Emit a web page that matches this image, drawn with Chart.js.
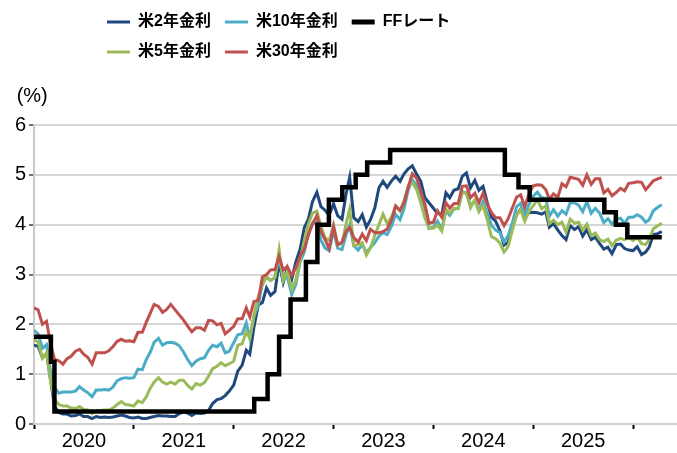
<!DOCTYPE html>
<html>
<head>
<meta charset="utf-8">
<script src="https://cdn.jsdelivr.net/npm/chart.js@4.4.1/dist/chart.umd.min.js"></script>
<style>
    html, body { margin: 0; padding: 0; background: #fff; }
    canvas { display: block; }
</style>
</head>
<body>
<canvas id="yieldChart" width="677" height="453"></canvas>
<script>
const us2y = [
    1.58,1.56, 1.33,1.42, 0.91,0.36, 0.23,0.20, 0.20,0.16, 0.17,0.20, 0.15,0.15, 0.11,0.15, 0.13,0.14, 0.13,0.14, 0.16,0.18, 0.16,0.13,
    0.12,0.14, 0.11,0.11, 0.13,0.15, 0.17,0.16, 0.16,0.15, 0.15,0.21, 0.24,0.22, 0.17,0.22, 0.21,0.22, 0.27,0.41, 0.49,0.51, 0.57,0.66,
    0.78,1.06, 1.18,1.48, 1.40,1.94, 2.39,2.44, 2.73,2.58, 2.66,3.25, 2.84,3.13, 2.90,3.25, 3.51,3.94, 4.11,4.46, 4.65,4.36, 4.29,4.19,
    4.42,4.18, 4.11,4.62, 4.95,4.14, 4.06,4.20, 3.95,4.10, 4.34,4.74, 4.87,4.75, 4.88,4.97, 4.87,5.02, 5.12,5.18, 5.01,4.87, 4.54,4.44,
    4.33,4.22, 4.21,4.64, 4.54,4.69, 4.72,4.97, 5.04,4.74, 4.89,4.69, 4.77,4.45, 4.15,4.07, 3.88,3.59, 3.64,3.95, 4.20,4.31, 4.15,4.24,
    4.25,4.24, 4.21,4.26, 3.95,4.02, 3.89,3.78, 3.70,3.98, 3.90,3.96, 3.77,3.90, 3.70,3.75, 3.62,3.51, 3.55,3.42, 3.60,3.61, 3.52,3.49,
    3.48,3.56, 3.40,3.45, 3.55,3.80, 3.82,3.86
];
const us5y = [
    1.69,1.65, 1.32,1.43, 0.89,0.49, 0.39,0.36, 0.36,0.32, 0.31,0.35, 0.29,0.28, 0.21,0.27, 0.27,0.28, 0.28,0.32, 0.39,0.45, 0.39,0.38,
    0.36,0.46, 0.43,0.55, 0.71,0.84, 0.93,0.84, 0.80,0.84, 0.80,0.88, 0.88,0.78, 0.70,0.81, 0.78,0.83, 0.96,1.11, 1.16,1.23, 1.17,1.21,
    1.26,1.58, 1.61,1.85, 1.72,2.18, 2.56,2.79, 2.96,2.88, 2.94,3.50, 2.88,3.07, 2.70,2.89, 3.30,3.68, 4.01,4.23, 4.27,3.97, 3.74,3.68,
    3.99,3.59, 3.63,4.02, 4.31,3.58, 3.60,3.64, 3.39,3.53, 3.79,4.00, 4.21,4.02, 4.15,4.38, 4.27,4.49, 4.77,4.85, 4.70,4.44, 4.14,3.93,
    3.93,3.99, 3.87,4.31, 4.23,4.33, 4.32,4.64, 4.64,4.34, 4.50,4.26, 4.38,4.11, 3.76,3.72, 3.63,3.45, 3.56,3.88, 4.20,4.30, 4.07,4.26,
    4.38,4.50, 4.32,4.38, 4.02,4.09, 4.00,4.05, 3.85,4.11, 4.03,4.05, 3.89,4.01, 3.78,3.83, 3.70,3.66, 3.71,3.58, 3.69,3.72, 3.70,3.75,
    3.68,3.75, 3.62,3.60, 3.70,3.92, 3.98,4.03
];
const us10y = [
    1.88,1.81, 1.52,1.59, 1.08,0.73, 0.62,0.64, 0.64,0.64, 0.66,0.75, 0.68,0.63, 0.55,0.68, 0.68,0.69, 0.68,0.74, 0.87,0.91, 0.93,0.92,
    0.93,1.10, 1.09,1.30, 1.43,1.64, 1.72,1.58, 1.63,1.64, 1.62,1.57, 1.45,1.30, 1.17,1.26, 1.31,1.33, 1.48,1.58, 1.55,1.62, 1.43,1.46,
    1.63,1.79, 1.81,2.03, 1.72,2.15, 2.39,2.83, 2.94,2.88, 2.94,3.35, 2.88,2.96, 2.60,2.80, 3.26,3.45, 3.83,4.02, 4.05,3.69, 3.53,3.48,
    3.88,3.53, 3.50,3.80, 4.00,3.58, 3.49,3.60, 3.44,3.54, 3.64,3.77, 3.84,3.80, 3.97,4.21, 4.10,4.33, 4.69,4.90, 4.79,4.54, 4.29,3.92,
    3.95,4.07, 3.91,4.28, 4.19,4.31, 4.33,4.66, 4.63,4.38, 4.48,4.28, 4.46,4.22, 3.99,3.89, 3.84,3.65, 3.78,4.03, 4.36,4.43, 4.19,4.40,
    4.57,4.65, 4.54,4.53, 4.17,4.30, 4.17,4.28, 4.21,4.44, 4.44,4.39, 4.26,4.46, 4.23,4.33, 4.23,4.04, 4.12,4.01, 4.11,4.13, 4.02,4.15,
    4.15,4.20, 4.15,4.05, 4.10,4.28, 4.35,4.40
];
const us30y = [
    2.33,2.29, 2.00,2.06, 1.63,1.30, 1.27,1.20, 1.31,1.36, 1.46,1.50, 1.40,1.34, 1.20,1.43, 1.43,1.43, 1.47,1.55, 1.66,1.70, 1.66,1.67,
    1.65,1.84, 1.84,2.05, 2.21,2.40, 2.36,2.24, 2.30,2.40, 2.29,2.19, 2.09,1.97, 1.85,1.93, 1.93,1.88, 2.08,2.07, 1.99,2.02, 1.81,1.88,
    1.96,2.11, 2.11,2.33, 2.15,2.46, 2.48,2.95, 3.00,3.09, 3.10,3.36, 3.09,3.16, 2.98,3.13, 3.37,3.51, 3.79,4.02, 4.18,3.87, 3.70,3.52,
    3.96,3.60, 3.65,3.87, 3.94,3.74, 3.65,3.81, 3.68,3.91, 3.84,3.84, 3.86,3.91, 4.09,4.37, 4.29,4.44, 4.76,5.02, 4.93,4.68, 4.41,4.03,
    4.05,4.28, 4.15,4.44, 4.33,4.42, 4.43,4.77, 4.78,4.54, 4.63,4.44, 4.63,4.41, 4.24,4.14, 4.14,3.98, 4.12,4.33, 4.55,4.60, 4.36,4.61,
    4.78,4.80, 4.79,4.70, 4.51,4.62, 4.55,4.82, 4.76,4.95, 4.93,4.91, 4.79,5.00, 4.81,4.92, 4.92,4.64, 4.71,4.58, 4.65,4.73, 4.68,4.83,
    4.84,4.86, 4.85,4.70, 4.78,4.88, 4.92,4.95
];

// FF rate (upper bound), value from each change date on
const ffDates = ['2020-01-01','2020-03-03','2020-03-16','2022-03-17','2022-05-05','2022-06-16','2022-07-28',
    '2022-09-22','2022-11-03','2022-12-15','2023-02-02','2023-03-23','2023-05-04','2023-07-27',
    '2024-09-19','2024-11-08','2024-12-19','2025-09-18','2025-10-30','2025-12-11','2026-04-16'];
const ffRate = [1.75,1.25,0.25,0.50,1.00,1.75,2.50,3.25,4.00,4.50,4.75,5.00,5.25,5.50,5.00,4.75,4.50,4.25,4.00,3.75,3.75];

const yearLabels = ['2020','2021','2022','2023','2024','2025'];
const yLabels = ['0','1','2','3','4','5','6'];

const c2 = '#1F497D';
const c5 = '#9BBB59';
const c10 = '#4BACC6';
const c30 = '#C0504D';

const axisFont = "'Liberation Sans', Arial, sans-serif";
const legendFont = "'Liberation Sans', 'Noto Sans CJK JP', sans-serif";

// sample dates: 1st and 16th of every month
let sampleDates = [];
for (let y = 2020; y <= 2026; y++) {
    for (let m = 1; m <= 12; m++) {
        if (y == 2026 && m > 4) break;
        let mm = String(m).padStart(2, '0');
        sampleDates.push(y + '-' + mm + '-01', y + '-' + mm + '-16');
    }
}

function toYear(s) {
    let d = Date.parse(s + 'T00:00:00Z');
    let y = Number(s.slice(0, 4));
    let start = Date.UTC(y, 0, 1);
    let end = Date.UTC(y + 1, 0, 1);
    return y + (d - start) / (end - start);
}

function series(values) {
    return sampleDates.map((d, i) => ({x: toYear(d), y: values[i]}));
}

function legendItem(text, color, width) {
    return {text: text, fillStyle: color, strokeStyle: color, lineWidth: width,
        pointStyle: 'line', fontColor: '#000', hidden: false};
}

// blank entries keep the two legend rows lined up in columns
function spacer(n) {
    return {text: '\u3000'.repeat(n), fillStyle: 'rgba(0,0,0,0)', strokeStyle: 'rgba(0,0,0,0)',
        lineWidth: 0, pointStyle: 'line', fontColor: 'rgba(0,0,0,0)', hidden: false};
}

const legendEntries = [
    spacer(3),
    legendItem('米2年金利', c2, 3),
    legendItem('米10年金利', c10, 3),
    legendItem('FFレート', '#000', 5),
    spacer(9),
    spacer(3),
    legendItem('米5年金利', c5, 3),
    legendItem('米30年金利', c30, 3)
];

let ctx = document.getElementById('yieldChart').getContext('2d');

let chart = new Chart(ctx, {
    type: 'line',
    data: {
        datasets: [
            {
                label: 'FFレート',
                data: ffDates.map((d, i) => ({x: toYear(d), y: ffRate[i]})),
                borderColor: '#000',
                borderWidth: 4.5,
                stepped: true,
                pointRadius: 0,
                fill: false
            },
            {label: '米30年金利', data: series(us30y), borderColor: c30, borderWidth: 3, pointRadius: 0, fill: false},
            {label: '米5年金利', data: series(us5y), borderColor: c5, borderWidth: 3, pointRadius: 0, fill: false},
            {label: '米10年金利', data: series(us10y), borderColor: c10, borderWidth: 3, pointRadius: 0, fill: false},
            {label: '米2年金利', data: series(us2y), borderColor: c2, borderWidth: 3, pointRadius: 0, fill: false}
        ]
    },
    options: {
        responsive: false,
        animation: false,
        devicePixelRatio: 1,
        events: [],
        layout: {padding: 0},
        plugins: {
            legend: {
                position: 'top',
                align: 'start',
                labels: {
                    usePointStyle: true,
                    pointStyleWidth: 23,
                    padding: 14,
                    color: '#000',
                    font: {family: legendFont, size: 16, weight: 'bold'},
                    generateLabels: () => legendEntries
                }
            },
            title: {
                display: true,
                text: '   (%)',
                position: 'top',
                align: 'start',
                weight: 500,
                color: '#000',
                font: {family: axisFont, size: 20, weight: 'normal'},
                padding: {top: 14, bottom: 17}
            },
            tooltip: {enabled: false}
        },
        scales: {
            x: {
                type: 'linear',
                min: 2020,
                max: 2026.44,
                afterBuildTicks: function(scale) {
                    let ticks = [];
                    for (let v = 2020; v <= 2026; v += 0.5) ticks.push({value: v});
                    scale.ticks = ticks;
                },
                ticks: {
                    autoSkip: false,
                    maxRotation: 0,
                    padding: 0,
                    color: '#000',
                    font: {family: axisFont, size: 20},
                    callback: function(value) {
                        if (value % 1 == 0.5) return yearLabels[Math.floor(value) - 2020] || '';
                        return '';
                    }
                },
                grid: {
                    drawOnChartArea: false,
                    drawTicks: true,
                    tickLength: 5,
                    tickWidth: 2,
                    tickColor: c => (c.tick && c.tick.value % 1 == 0 ? '#000' : 'rgba(0,0,0,0)')
                },
                border: {color: '#d0d0d0', width: 2}
            },
            y: {
                min: 0,
                max: 6,
                afterFit: function(scale) { scale.width = 34; },
                ticks: {
                    stepSize: 1,
                    padding: 3,
                    color: '#000',
                    font: {family: axisFont, size: 20},
                    callback: v => yLabels[v]
                },
                grid: {
                    color: '#d6d6d6',
                    lineWidth: 2,
                    tickColor: '#404040',
                    tickLength: 5,
                    tickWidth: 1.5
                },
                border: {color: '#c8c8c8', width: 2}
            }
        }
    }
});
</script>
</body>
</html>
